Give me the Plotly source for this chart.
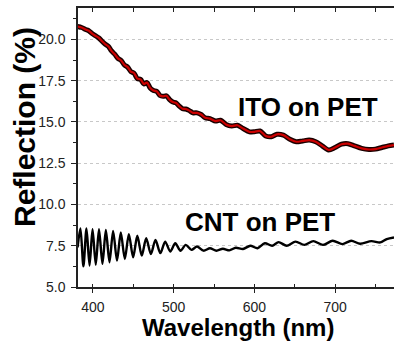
import plotly.graph_objects as go

# ---- data ----
ito_wl = [381, 386, 391, 395, 399, 403, 407, 411, 415, 419, 423, 427, 431, 435, 439, 443,
          447, 451, 455, 459, 463, 467, 471, 475, 479, 483, 487, 491, 495, 499, 503, 507,
          511, 515, 519, 524, 529, 534, 539, 545, 552, 558, 565, 572, 579, 586, 594, 600,
          607, 614, 621, 628, 636, 644, 652, 660, 668, 676, 684, 692, 700, 708, 716, 724,
          733, 742, 750, 758, 766, 773]
ito_refl = [20.78, 20.72, 20.60, 20.52, 20.35, 20.22, 20.10, 19.90, 19.72, 19.58, 19.30, 19.10,
            18.85, 18.72, 18.45, 18.32, 18.05, 17.95, 17.62, 17.58, 17.30, 17.38, 17.05, 16.90,
            16.85, 16.60, 16.55, 16.58, 16.35, 16.20, 16.15, 15.95, 15.80, 15.78, 15.70, 15.55,
            15.55, 15.45, 15.25, 15.20, 15.05, 15.10, 14.85, 14.75, 14.80, 14.60, 14.40, 14.40,
            14.45, 14.15, 14.10, 14.25, 14.20, 13.95, 13.80, 13.85, 13.90, 13.80, 13.55, 13.30,
            13.45, 13.65, 13.68, 13.55, 13.40, 13.33, 13.35, 13.45, 13.55, 13.60]

cnt_wl = [381, 384.5, 388.2, 392, 395.8, 399.5, 403.5, 407.5, 411.8, 416, 420.5, 425, 429.8,
          434.5, 439.5, 444.5, 449.8, 455, 460.5, 466, 471.8, 477.5, 483.5, 489.5, 495.8,
          502, 508.5, 515, 522, 529, 537, 545, 553, 561, 569, 577, 586, 595, 604, 613, 622,
          630, 640, 651, 662, 673, 685, 697, 709, 720, 731, 745, 756, 764, 773]
cnt_refl = [7.4, 8.55, 6.25, 8.55, 6.3, 8.5, 6.35, 8.5, 6.4, 8.45, 6.5, 8.4, 6.6, 8.3, 6.7,
            8.2, 6.8, 8.1, 6.9, 7.95, 7.0, 7.85, 7.05, 7.75, 7.15, 7.65, 7.2, 7.55, 7.25,
            7.45, 7.2, 7.35, 7.2, 7.32, 7.22, 7.38, 7.3, 7.5, 7.35, 7.65, 7.5, 7.72, 7.5,
            7.75, 7.55, 7.78, 7.55, 7.8, 7.6, 7.8, 7.62, 7.78, 7.7, 7.9, 8.0]

x_ticks = [400, 500, 600, 700]
y_ticks = [5.0, 7.5, 10.0, 12.5, 15.0, 17.5, 20.0]
x_range = [381.5, 773]
y_range = [5.0, 21.9]

FONT = "Liberation Sans, Arial, sans-serif"

fig = go.Figure()
fig.add_trace(go.Scatter(x=ito_wl, y=ito_refl, mode="lines",
                         line=dict(color="#1a0000", width=5, shape="spline", smoothing=0.8),
                         hoverinfo="skip", showlegend=False))
fig.add_trace(go.Scatter(x=ito_wl, y=ito_refl, mode="lines",
                         line=dict(color="#cc0000", width=2.2, shape="spline", smoothing=0.8),
                         showlegend=False))
fig.add_trace(go.Scatter(x=cnt_wl, y=cnt_refl, mode="lines",
                         line=dict(color="black", width=2.4, shape="spline", smoothing=0.8),
                         showlegend=False))
# invisible trace for the top (mirror) axis
fig.add_trace(go.Scatter(x=x_range, y=y_range, xaxis="x2", mode="markers",
                         marker=dict(opacity=0), hoverinfo="skip", showlegend=False))

fig.update_layout(
    width=394, height=341,
    margin=dict(l=78, r=0, t=8, b=54),
    paper_bgcolor="white", plot_bgcolor="white",
    font=dict(family=FONT, color="#222"),
    xaxis=dict(range=x_range, tickvals=x_ticks, ticktext=[str(v) for v in x_ticks],
               ticks="outside", ticklen=4, tickwidth=1.2, tickcolor="#222",
               minor=dict(dtick=50, tick0=0, ticks="inside", ticklen=3, tickcolor="#222"),
               showline=True, linecolor="#222", linewidth=1.5,
               showgrid=False, zeroline=False, ticklabelstandoff=2,
               tickfont=dict(size=14, color="#222")),
    xaxis2=dict(range=x_range, overlaying="x", side="top", dtick=50, tick0=0,
                ticks="inside", ticklen=4, tickcolor="#222", showticklabels=False,
                showline=True, linecolor="#222", linewidth=1.5,
                showgrid=False, zeroline=False),
    yaxis=dict(range=y_range, tickvals=y_ticks, ticktext=[f"{v:.1f}" for v in y_ticks],
               ticks="outside", ticklen=5, tickwidth=1.2, tickcolor="#222",
               minor=dict(dtick=1.25, tick0=0, ticks="outside", ticklen=3, tickcolor="#222"),
               showline=True, linecolor="#222", linewidth=1.5,
               showgrid=True, gridcolor="#c8c8c8", griddash="dot", gridwidth=1,
               zeroline=False, ticklabelstandoff=3,
               tickfont=dict(size=14, color="#222")),
    annotations=[
        dict(text="<b>ITO on PET</b>", x=308, y=107, showarrow=False,
             font=dict(size=26, color="black", family=FONT)),
        dict(text="<b>CNT on PET</b>", x=260, y=222, showarrow=False,
             font=dict(size=26, color="black", family=FONT)),
        dict(text="<b>Wavelength (nm)</b>", x=238, y=327, showarrow=False,
             font=dict(size=24, color="black", family=FONT)),
        dict(text="<b>Reflection (%)</b>", x=24, y=127, textangle=-90, showarrow=False,
             font=dict(size=30, color="black", family=FONT)),
    ],
)

# convert pixel-placed annotations to paper coords
W, H = 394, 341
L, R, T, B = 78, 0, 8, 54
pw, ph = W - L - R, H - T - B
new_ann = []
for a in fig.layout.annotations:
    px, py = a.x, a.y
    a.update(xref="paper", yref="paper",
             x=(px - L) / pw, y=(H - B - py) / ph,
             xanchor="center", yanchor="middle")
    new_ann.append(a)
fig.layout.annotations = new_ann

fig.write_html("out.html")
